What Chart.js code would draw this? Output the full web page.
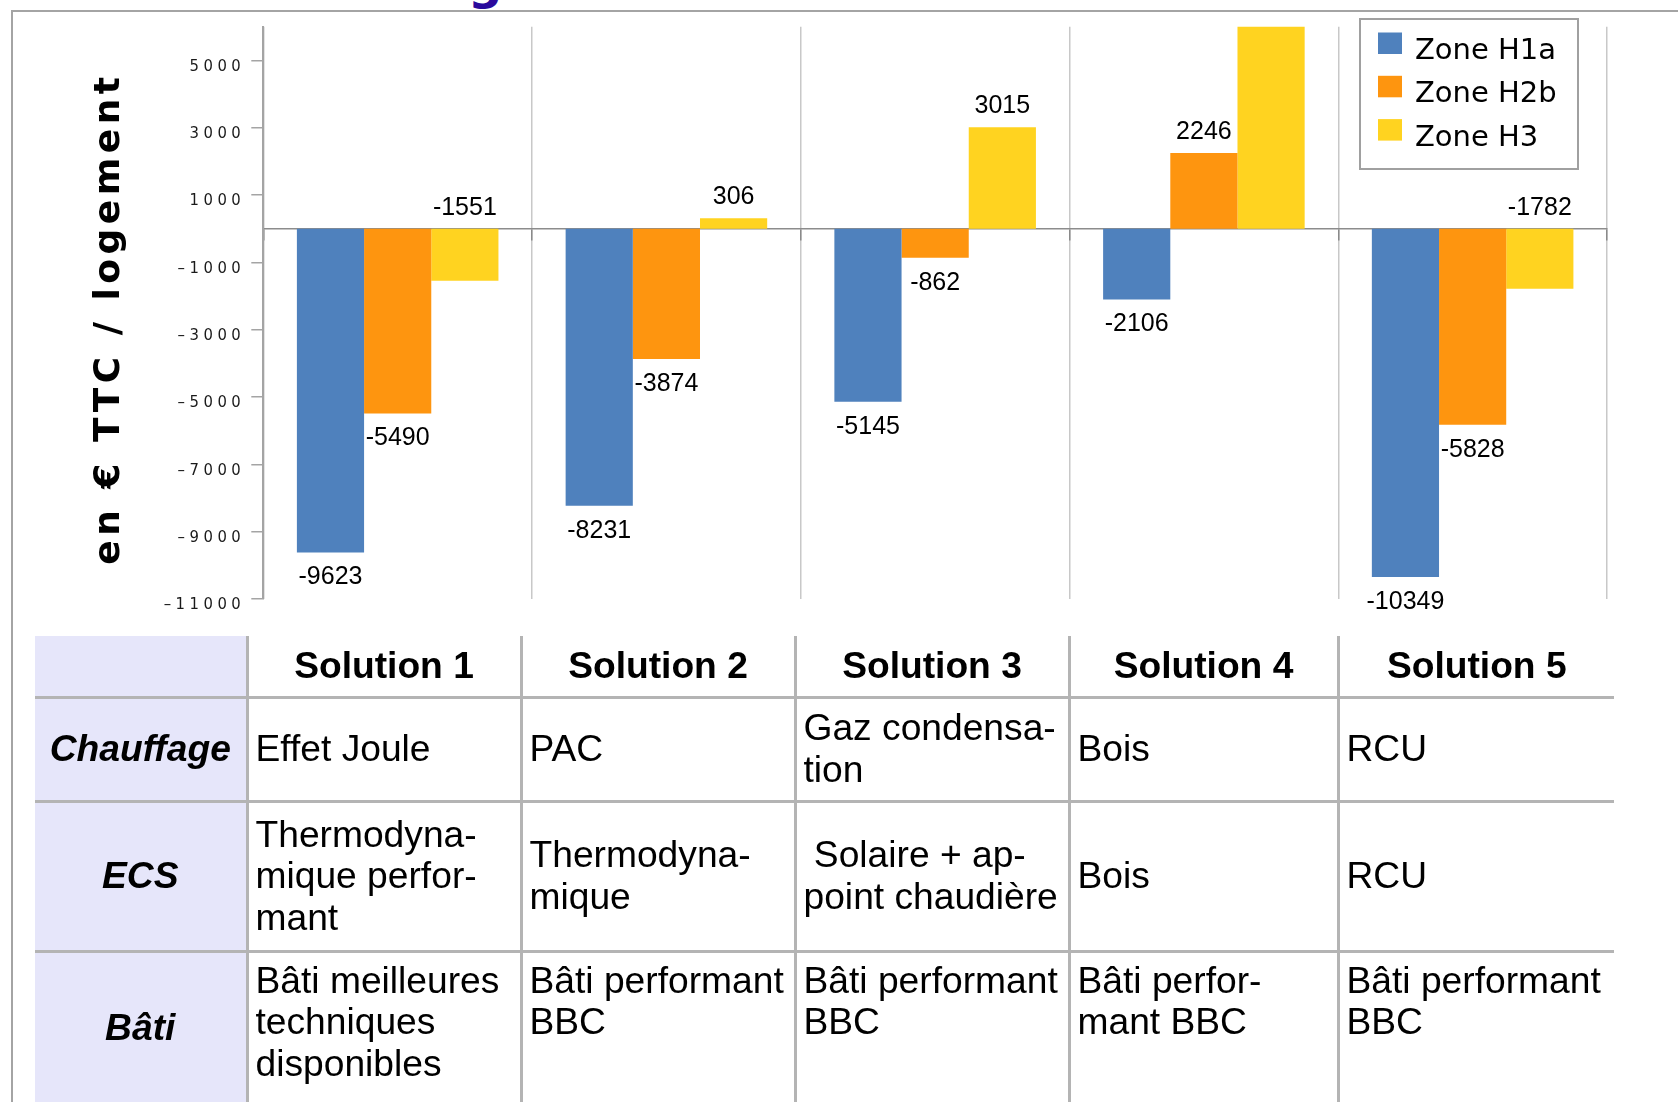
<!DOCTYPE html>
<html lang="fr">
<head>
<meta charset="utf-8">
<title>Solutions – en € TTC / logement</title>
<script src="https://cdn.jsdelivr.net/npm/chart.js@4.4.1/dist/chart.umd.min.js"></script>
<style>
  html, body { margin: 0; padding: 0; background: #fff; overflow: hidden; }
  body { width: 1678px; height: 1102px; position: relative; font-family: "Liberation Sans", Arial, sans-serif; }

  .frame {
    position: absolute; left: 11px; top: 10px; width: 1720px; height: 1200px;
    border-left: 2.5px solid #a4a4a4; border-top: 2.5px solid #a4a4a4;
  }
  .title-frag {
    position: absolute; left: 468px; top: -46px; line-height: 48px;
    font: bold 48px "DejaVu Sans", sans-serif; color: #2a0a9c;
  }
  #chartBox { position: absolute; left: 0; top: 0; }

  /* solutions table under the chart */
  table.sol {
    position: absolute; left: 35px; top: 636px;
    border-collapse: collapse; border-style: hidden; table-layout: fixed;
    font-size: 37.2px; color: #000;
  }
  table.sol td, table.sol th {
    border: 3px solid #b4b4b4; padding: 0 7px; white-space: nowrap;
    vertical-align: middle; text-align: left; font-weight: normal; line-height: 1.12;
  }
  table.sol th { font-weight: bold; text-align: center; }
  table.sol .rowhead { background: #e6e6fa; font-weight: bold; font-style: italic; text-align: center; }
  table.sol tr.top td { vertical-align: top; padding-top: 7px; }
  table.sol tr.top td.rowhead { vertical-align: middle; padding-top: 0; }
</style>
</head>
<body>
<div class="frame"></div>
<div class="title-frag">g</div>
<canvas id="chartBox" width="1678" height="640"></canvas>

<table class="sol">
  <colgroup>
    <col style="width:212px"><col style="width:274px"><col style="width:274px">
    <col style="width:274px"><col style="width:269px"><col style="width:276px">
  </colgroup>
  <tr style="height:61px">
    <th class="rowhead"></th><th>Solution 1</th><th>Solution 2</th><th>Solution 3</th><th>Solution 4</th><th>Solution 5</th>
  </tr>
  <tr style="height:104px">
    <td class="rowhead">Chauffage</td><td>Effet Joule</td><td>PAC</td><td>Gaz condensa-<br>tion</td><td>Bois</td><td>RCU</td>
  </tr>
  <tr style="height:150px">
    <td class="rowhead">ECS</td><td>Thermodyna-<br>mique perfor-<br>mant</td><td>Thermodyna-<br>mique</td><td>&nbsp;Solaire + ap-<br>point chaudière</td><td>Bois</td><td>RCU</td>
  </tr>
  <tr class="top" style="height:152px">
    <td class="rowhead">Bâti</td><td>Bâti meilleures<br>techniques<br>disponibles</td><td>Bâti performant<br>BBC</td><td>Bâti performant<br>BBC</td><td>Bâti perfor-<br>mant BBC</td><td>Bâti performant<br>BBC</td>
  </tr>
</table>

<script>
// Surcoût par solution et par zone climatique (€ TTC / logement)
const solutions = ['Solution 1', 'Solution 2', 'Solution 3', 'Solution 4', 'Solution 5'];
const zoneH1a = [-9623, -8231, -5145, -2106, -10349];
const zoneH2b = [-5490, -3874, -862, 2246, -5828];
const zoneH3 = [-1551, 306, 3015, 6500, -1782];
const yTicks = [-11000, -9000, -7000, -5000, -3000, -1000, 1000, 3000, 5000];
const yMin = -11000;
const yMax = 6000;

const colors = { h1a: '#4f81bd', h2b: '#fe950f', h3: '#ffd320' };

// wide letter spacing on the axis texts only
const axisSpacing = {
  id: 'axisSpacing',
  beforeDraw(chart) { chart.ctx.letterSpacing = '4.5px'; },
  beforeDatasetsDraw(chart) { chart.ctx.letterSpacing = '0px'; }
};

// value labels: H3 labels sit above the bar's top edge, the others at the bar end
const valueLabels = {
  id: 'valueLabels',
  afterDatasetsDraw(chart) {
    const ctx = chart.ctx;
    const yScale = chart.scales.y;
    ctx.save();
    ctx.letterSpacing = '0px';
    ctx.font = '25px "Liberation Sans", Arial, sans-serif';
    ctx.fillStyle = '#000';
    ctx.textAlign = 'center';
    ctx.textBaseline = 'middle';
    chart.data.datasets.forEach((ds, i) => {
      const meta = chart.getDatasetMeta(i);
      meta.data.forEach((bar, j) => {
        const v = ds.data[j];
        if (v > yScale.max || v < yScale.min) return;
        const { x, y, base } = bar.getProps(['x', 'y', 'base'], true);
        let ly;
        if (ds.labelAnchor === 'top') ly = Math.min(y, base) - 21;
        else ly = v >= 0 ? y - 21 : y + 25;
        ctx.fillText(String(v), x, ly);
      });
    });
    ctx.restore();
  }
};

// boxed legend in the upper right corner
const boxLegend = {
  id: 'boxLegend',
  afterDraw(chart) {
    const ctx = chart.ctx;
    ctx.save();
    ctx.letterSpacing = '0px';
    ctx.fillStyle = '#fff';
    ctx.fillRect(1360, 19, 218, 150);
    ctx.strokeStyle = '#a0a0a0';
    ctx.lineWidth = 2;
    ctx.strokeRect(1360, 19, 218, 150);
    ctx.font = '29px "DejaVu Sans", sans-serif';
    ctx.textAlign = 'left';
    ctx.textBaseline = 'alphabetic';
    chart.data.datasets.forEach((ds, i) => {
      const top = 32.5 + i * 43.3;
      ctx.fillStyle = ds.backgroundColor;
      ctx.fillRect(1378, top, 24, 21.5);
      ctx.fillStyle = '#000';
      ctx.fillText(ds.label, 1415, top + 26.6);
    });
    ctx.restore();
  }
};

new Chart(document.getElementById('chartBox'), {
  type: 'bar',
  data: {
    labels: solutions,
    datasets: [
      { label: 'Zone H1a', data: zoneH1a, backgroundColor: colors.h1a },
      { label: 'Zone H2b', data: zoneH2b, backgroundColor: colors.h2b },
      { label: 'Zone H3', data: zoneH3, backgroundColor: colors.h3, labelAnchor: 'top' }
    ]
  },
  options: {
    responsive: false,
    animation: false,
    devicePixelRatio: 1,
    layout: { padding: { left: 0, top: 26.7, right: 71, bottom: 41.1 } },
    datasets: { bar: { categoryPercentage: 0.75, barPercentage: 1.0, borderWidth: 0 } },
    plugins: { legend: { display: false }, tooltip: { enabled: false } },
    scales: {
      x: {
        position: { y: 0 },
        ticks: { display: false },
        grid: { offset: true, color: '#c8c8c8', lineWidth: 1.5, drawTicks: true, tickLength: 11, tickColor: '#8a8a8a', tickWidth: 1.5 },
        border: { display: true, color: '#8c8c8c', width: 1.5 },
        afterFit: s => { s.height = 0; }
      },
      y: {
        min: yMin,
        max: yMax,
        afterBuildTicks: s => { s.ticks = yTicks.map(v => ({ value: v })); },
        afterFit: s => { s.width = 263.3; },
        ticks: {
          font: { family: '"DejaVu Sans Condensed", "DejaVu Sans"', size: 16.5 },
          color: '#1a1a1a',
          padding: 6,
          labelOffset: 6,
          callback: v => String(v).replace('-', '–')
        },
        grid: { drawOnChartArea: false, drawTicks: true, tickLength: 12, color: '#a4a4a4', lineWidth: 1.5 },
        border: { color: '#a4a4a4', width: 2 },
        title: {
          display: true,
          // trailing thin space nudges the centred title down a little
          text: 'en € TTC / logement\u2009',
          font: { family: 'DejaVu Sans', size: 36, weight: 'bold' },
          color: '#000',
          padding: { top: 88, bottom: 0 }
        }
      }
    }
  },
  plugins: [axisSpacing, valueLabels, boxLegend]
});
</script>
</body>
</html>
